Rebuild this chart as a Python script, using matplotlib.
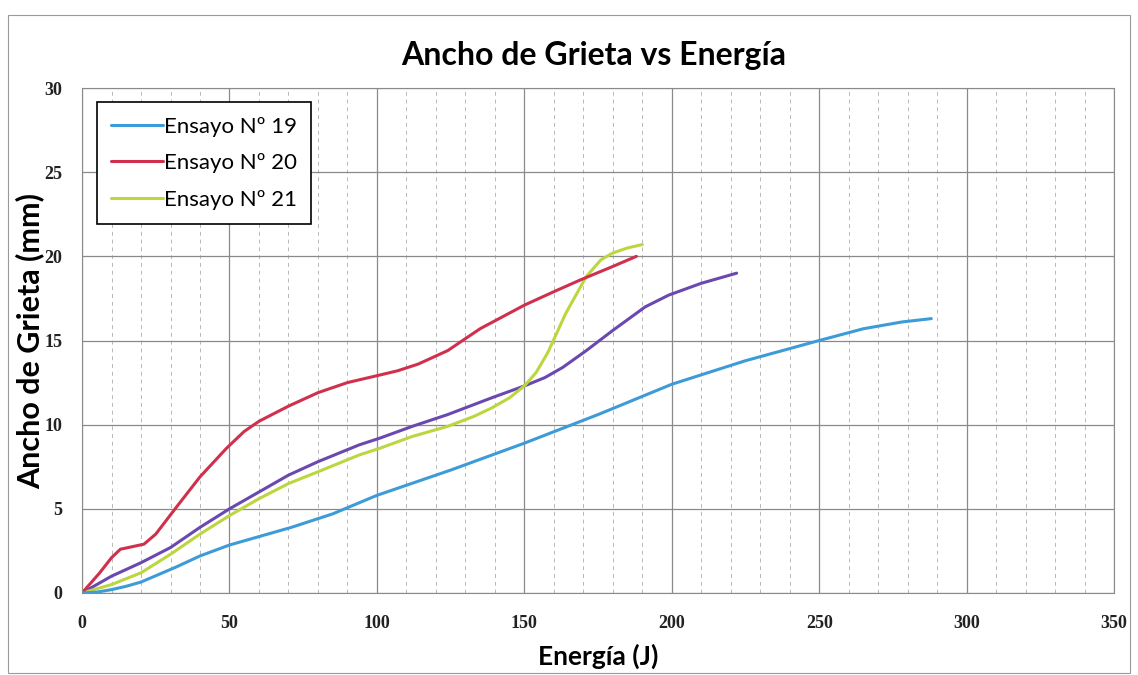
import numpy as np
import matplotlib.pyplot as plt
from matplotlib.patches import Rectangle

# Ensayo 19 (blue)
e19_x = [0, 5, 10, 15, 20, 26, 32, 40, 50, 60, 71, 85, 100, 125, 150, 175, 200, 225, 250, 265, 278, 288]
e19_y = [0, 0.05, 0.2, 0.4, 0.65, 1.1, 1.55, 2.2, 2.85, 3.35, 3.9, 4.7, 5.8, 7.3, 8.9, 10.6, 12.4, 13.8, 15.0, 15.7, 16.1, 16.3]

# Ensayo 20 (red)
e20_x = [0, 6, 10, 13, 17, 21, 25, 32, 40, 49, 55, 60, 70, 80, 90, 101, 107, 114, 124, 135, 150, 160, 169, 180, 188]
e20_y = [0, 1.2, 2.1, 2.6, 2.75, 2.9, 3.5, 5.1, 6.9, 8.6, 9.6, 10.2, 11.1, 11.9, 12.5, 12.95, 13.2, 13.6, 14.4, 15.7, 17.1, 17.9, 18.6, 19.4, 20.0]

# Ensayo 21 (green)
e21_x = [0, 10, 20, 30, 40, 50, 60, 70, 80, 94, 101, 112, 124, 133, 139, 145, 150, 154, 158, 164, 171, 176, 180, 185, 190]
e21_y = [0, 0.5, 1.2, 2.3, 3.5, 4.6, 5.6, 6.5, 7.2, 8.2, 8.6, 9.3, 9.9, 10.5, 11.0, 11.6, 12.3, 13.1, 14.3, 16.6, 18.8, 19.8, 20.2, 20.5, 20.7]

# unlabeled series (purple)
e22_x = [0, 10, 20, 30, 40, 50, 60, 70, 80, 94, 101, 112, 124, 139, 150, 157, 163, 171, 180, 191, 199, 210, 222]
e22_y = [0, 1.0, 1.8, 2.7, 3.9, 5.0, 6.0, 7.0, 7.8, 8.8, 9.2, 9.9, 10.6, 11.6, 12.3, 12.8, 13.4, 14.4, 15.6, 17.0, 17.7, 18.4, 19.0]

fig = plt.figure(figsize=(11.38, 6.75), dpi=100)
fig.patches.append(Rectangle((0.007, 0.003), 0.986, 0.975, transform=fig.transFigure,
                             fill=False, edgecolor='#9a9a9a', linewidth=0.8))
ax = fig.add_axes([0.0721, 0.1215, 0.9069, 0.7481])

kw = dict(linewidth=2.2, solid_capstyle='round', solid_joinstyle='round')
ax.plot(e22_x, e22_y, color='#6a48b0', **kw)
ax.plot(e21_x, e21_y, color='#bcd640', label='Ensayo Nº 21', **kw)
ax.plot(e20_x, e20_y, color='#d0304c', label='Ensayo Nº 20', **kw)
ax.plot(e19_x, e19_y, color='#3d9bd8', label='Ensayo Nº 19', **kw)

ax.set_xlim(0, 350)
ax.set_ylim(0, 30)
ax.set_xticks(np.arange(0, 351, 50))
ax.set_yticks(np.arange(0, 31, 5))
ax.set_xticks(np.arange(0, 351, 10), minor=True)
ax.grid(which='major', color='#8a8a8a', linewidth=0.9)
ax.grid(which='minor', axis='x', color='#b8b8b8', linewidth=0.7, linestyle=(0, (4, 4)))
ax.set_axisbelow(True)
ax.tick_params(which='both', length=0)
for s in ax.spines.values():
    s.set_color('#8a8a8a')
for lab in ax.get_xticklabels() + ax.get_yticklabels():
    lab.set_fontfamily('Liberation Serif')
    lab.set_fontsize(13)
    lab.set_fontweight('bold')
    lab.set_color('#222222')
ax.tick_params(axis='x', pad=16)
ax.tick_params(axis='y', pad=14)

fig.text(0.522, 0.918, 'Ancho de Grieta vs Energía', ha='center', va='center',
         fontsize=23, fontweight='bold', family='Lato')
ax.set_xlabel('Energía (J)', fontsize=19, fontweight='bold', family='Lato', labelpad=8)
ax.set_ylabel('Ancho de Grieta (mm)', fontsize=22, fontweight='bold', family='Lato')
ax.yaxis.set_label_coords(-0.037, 0.5)

h, l = ax.get_legend_handles_labels()
leg = ax.legend(h[::-1], l[::-1], loc='upper left', bbox_to_anchor=(0.0145, 0.972),
                borderaxespad=0, fancybox=False, edgecolor='black', framealpha=1,
                prop={'family': 'Lato', 'size': 16}, handlelength=2.3, handletextpad=0.05,
                borderpad=0.65, labelspacing=0.75)
leg.get_frame().set_linewidth(1.2)

fig.savefig('out.png', dpi=100)
